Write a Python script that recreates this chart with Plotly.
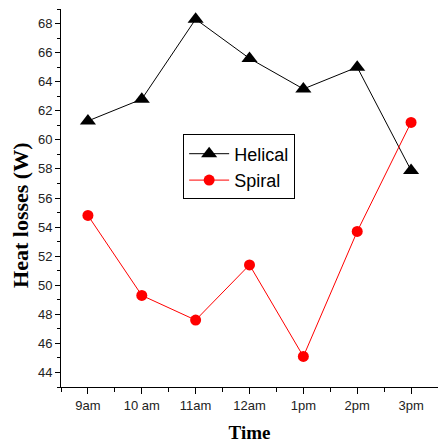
import plotly.graph_objects as go

times = ["9am", "10 am", "11am", "12am", "1pm", "2pm", "3pm"]
helical = [61.3, 62.8, 68.3, 65.6, 63.5, 65.0, 57.9]
spiral = [54.8, 49.3, 47.6, 51.4, 45.1, 53.7, 61.2]
xpos = list(range(len(times)))

fig = go.Figure()
fig.add_trace(go.Scatter(
    x=xpos, y=helical, name="Helical", mode="lines+markers",
    line=dict(color="black", width=1),
    marker=dict(symbol="triangle-up", size=14, color="black"),
))
fig.add_trace(go.Scatter(
    x=xpos, y=spiral, name="Spiral", mode="lines+markers",
    line=dict(color="red", width=1),
    marker=dict(symbol="circle", size=11, color="red"),
))

tickfont = dict(family="Liberation Sans, Arial", size=13, color="#222")
titlefont = dict(family="Liberation Serif, Times New Roman", size=19, color="black")
fig.update_layout(
    width=438, height=444,
    margin=dict(l=61, r=0, t=9, b=57, autoexpand=False),
    paper_bgcolor="white", plot_bgcolor="white",
    showlegend=True,
    legend=dict(
        x=0.324, y=0.668, xanchor="left", yanchor="top",
        bordercolor="black", borderwidth=1, bgcolor="white",
        font=dict(family="Liberation Sans, Arial", size=18, color="black"),
        itemwidth=40, tracegroupgap=0,
    ),
    xaxis=dict(
        range=[-0.5, 6.5], tickmode="array", tickvals=xpos, ticktext=times,
        automargin=False,
        showgrid=False, zeroline=False, showline=True, linecolor="black", linewidth=1,
        ticks="outside", ticklen=6, tickcolor="black", tickfont=tickfont,
        minor=dict(tickmode="linear", tick0=-0.5, dtick=1, ticks="outside", ticklen=4, tickcolor="black", showgrid=False),
        title=dict(text="<b>Time</b>", font=titlefont, standoff=14),
    ),
    yaxis=dict(
        range=[43, 69], tick0=44, dtick=2,
        automargin=False,
        showgrid=False, zeroline=False, showline=True, linecolor="black", linewidth=1,
        ticks="outside", ticklen=5, tickcolor="black", tickfont=tickfont,
        minor=dict(tick0=43, dtick=1, ticks="outside", ticklen=3, tickcolor="black", showgrid=False),
    ),
    annotations=[dict(
        text="<b>Heat losses (W)</b>", textangle=-90, showarrow=False,
        xref="paper", yref="paper", x=-0.109, y=0.455, xanchor="center", yanchor="middle",
        font=dict(family="Liberation Serif, Times New Roman", size=22, color="black"),
    )],
)
fig.write_html("out.html", post_script="document.body.style.margin='0';",
               config={"displayModeBar": False})
